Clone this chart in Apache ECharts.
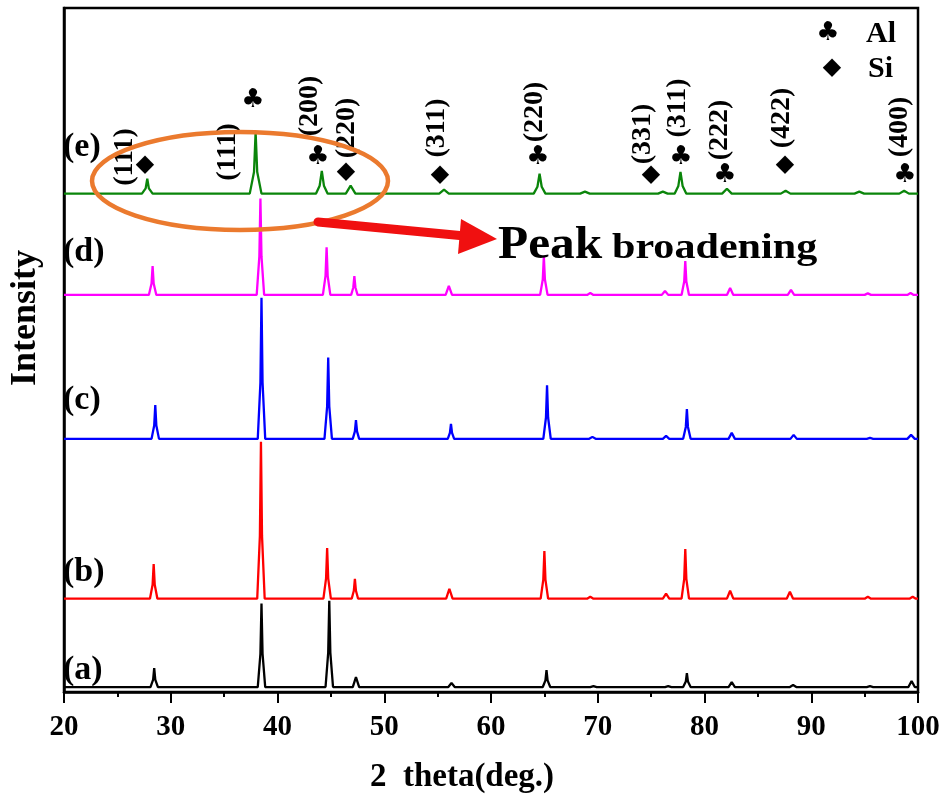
<!DOCTYPE html>
<html><head><meta charset="utf-8">
<script src="https://cdn.jsdelivr.net/npm/echarts@6/dist/echarts.min.js"></script>
<style>html,body{margin:0;padding:0;background:#fff}#c{width:943px;height:799px}</style>
</head><body><div id="c"></div>
<script>
// x axis (2 theta, deg.)
const xMin = 20, xMax = 100, xStep = 10;
// sample names, colours and vertical stacking offsets (a.u.)
const sampleNames = ['(a)', '(b)', '(c)', '(d)', '(e)'];
const sampleColors = ['#000000', '#ff0000', '#0000ff', '#ff00ff', '#0a850a'];
const sampleOffsets = [100, 1880, 5100, 8000, 10040];
const yMax = 13780;

// intensity above each pattern's own baseline, [2theta, intensity]
const patternA = [
  [20,0],
  [28.1,0],[28.35,150],[28.45,380],[28.55,150],[28.8,0],
  [38.15,0],[38.4,670],[38.5,1680],[38.6,670],[38.85,0],
  [44.5,0],[44.75,695],[44.85,1740],[44.95,695],[45.2,0],
  [47.05,0],[47.35,200],[47.65,0],
  [56.0,0],[56.3,80],[56.6,0],
  [64.85,0],[65.1,135],[65.2,340],[65.3,135],[65.55,0],
  [69.3,0],[69.6,20],[69.9,0],
  [76.3,0],[76.6,20],[76.9,0],
  [78.0,0],[78.25,110],[78.35,280],[78.45,110],[78.7,0],
  [82.25,0],[82.55,100],[82.85,0],
  [88.0,0],[88.3,40],[88.6,0],
  [95.2,0],[95.5,20],[95.8,0],
  [99.1,0],[99.4,120],[99.7,0],
  [100,0]
];
const patternB = [
  [20,0],
  [28.05,0],[28.3,280],[28.4,700],[28.5,280],[28.75,0],
  [38.1,0],[38.35,1265],[38.45,3160],[38.55,1265],[38.8,0],
  [44.3,0],[44.55,410],[44.65,1020],[44.75,410],[45.0,0],
  [46.95,0],[47.15,160],[47.25,400],[47.35,160],[47.55,0],
  [55.8,0],[56.1,200],[56.4,0],
  [64.65,0],[64.9,385],[65.0,960],[65.1,385],[65.35,0],
  [69.0,0],[69.3,40],[69.6,0],
  [76.1,0],[76.4,100],[76.7,0],
  [77.85,0],[78.1,400],[78.2,1000],[78.3,400],[78.55,0],
  [82.1,0],[82.4,160],[82.7,0],
  [87.7,0],[88.0,140],[88.3,0],
  [95.0,0],[95.3,40],[95.6,0],
  [99.2,0],[99.5,40],[99.8,0],
  [100,0]
];
const patternC = [
  [20,0],
  [28.2,0],[28.45,270],[28.55,680],[28.65,270],[28.9,0],
  [38.15,0],[38.4,1135],[38.5,2840],[38.6,1135],[38.85,0],
  [44.4,0],[44.65,655],[44.75,1640],[44.85,655],[45.1,0],
  [47.05,0],[47.25,150],[47.35,380],[47.45,150],[47.65,0],
  [55.95,0],[56.15,120],[56.25,300],[56.35,120],[56.55,0],
  [64.9,0],[65.15,430],[65.25,1080],[65.35,430],[65.6,0],
  [69.2,0],[69.5,40],[69.8,0],
  [76.1,0],[76.4,60],[76.7,0],
  [78.0,0],[78.25,240],[78.35,600],[78.45,240],[78.7,0],
  [82.25,0],[82.55,120],[82.85,0],
  [88.05,0],[88.35,80],[88.65,0],
  [95.2,0],[95.5,20],[95.8,0],
  [99.0,0],[99.35,80],[99.7,0],
  [100,0]
];
const patternD = [
  [20,0],
  [27.95,0],[28.2,230],[28.3,580],[28.4,230],[28.65,0],
  [38.05,0],[38.3,775],[38.4,1940],[38.5,775],[38.75,0],
  [44.25,0],[44.5,385],[44.6,960],[44.7,385],[44.95,0],
  [46.9,0],[47.1,150],[47.2,380],[47.3,150],[47.5,0],
  [55.75,0],[56.05,180],[56.35,0],
  [64.6,0],[64.85,310],[64.95,780],[65.05,310],[65.3,0],
  [69.0,0],[69.3,40],[69.6,0],
  [76.0,0],[76.3,80],[76.6,0],
  [77.85,0],[78.1,270],[78.2,680],[78.3,270],[78.55,0],
  [82.1,0],[82.4,140],[82.7,0],
  [87.8,0],[88.1,100],[88.4,0],
  [95.0,0],[95.3,30],[95.6,0],
  [99.0,0],[99.3,40],[99.6,0],
  [100,0]
];
const patternE = [
  [20,0],
  [27.3,0],[27.65,105],[27.8,300],[27.95,105],[28.3,0],
  [37.4,0],[37.8,435],[37.95,1240],[38.1,435],[38.5,0],
  [43.6,0],[43.95,160],[44.15,460],[44.35,160],[44.7,0],
  [46.4,0],[46.85,160],[47.3,0],
  [55.15,0],[55.6,80],[56.05,0],
  [64.0,0],[64.35,140],[64.55,400],[64.75,140],[65.1,0],
  [68.35,0],[68.8,40],[69.25,0],
  [75.65,0],[76.1,40],[76.55,0],
  [77.2,0],[77.55,155],[77.75,440],[77.95,155],[78.3,0],
  [81.65,0],[82.1,100],[82.55,0],
  [87.15,0],[87.6,60],[88.05,0],
  [94.05,0],[94.5,40],[94.95,0],
  [98.25,0],[98.7,60],[99.15,0],
  [100,0]
];
const patterns = [patternA, patternB, patternC, patternD, patternE];

// peak indexing of pattern (e)
const peakHkl = ['(111)', '(111)', '(200)', '(220)', '(311)', '(220)', '(331)', '(311)', '(222)', '(422)', '(400)'];
const peakPhase = ['Si', 'Al', 'Al', 'Si', 'Si', 'Al', 'Si', 'Al', 'Al', 'Si', 'Al'];

const CLUB = '\u2663', DIAM = '\u25C6';
const serif = 'Liberation Serif';

const chart = echarts.init(document.getElementById('c'), null, {renderer: 'canvas'});

const series = patterns.map((p, i) => ({
  name: sampleNames[i],
  type: 'line',
  data: p.map(d => [d[0], d[1] + sampleOffsets[i]]),
  showSymbol: false,
  symbol: 'none',
  lineStyle: {color: sampleColors[i], width: 2.3},
  itemStyle: {color: sampleColors[i]},
  z: 2 + i,
  animation: false
}));

// annotation placement (pixels)
const labelPos = [[125,157],[228,152],[310,106],[347,128],[437,128],[535,112],[643,134],[678,108],[720,130],[782,118],[900,127]];
const symPos = [[145,165],[253,100],[318,157],[346,172],[440,175],[538,157],[651,175],[681,157],[725,175],[785,165],[905,175]];
const panelPos = [[63,670],[63,572],[63,400],[63,252],[63,147]];

const graphic = [];
peakHkl.forEach((t, i) => {
  graphic.push({type: 'text', x: labelPos[i][0], y: labelPos[i][1], rotation: Math.PI / 2, z: 20,
    style: {text: t, font: 'bold 28px "' + serif + '"', fill: '#000', align: 'center', verticalAlign: 'middle'}});
  const isAl = peakPhase[i] === 'Al';
  graphic.push({type: 'text', x: symPos[i][0], y: symPos[i][1], z: 20,
    style: {text: isAl ? CLUB : DIAM, font: (isAl ? '26px' : '24px') + ' "DejaVu Sans"', fill: '#000', align: 'center', verticalAlign: 'middle'}});
});
sampleNames.forEach((n, i) => {
  graphic.push({type: 'text', x: panelPos[i][0], y: panelPos[i][1], z: 20,
    style: {text: n, font: 'bold 34px "' + serif + '"', fill: '#000', align: 'left', verticalAlign: 'middle'}});
});
// legend
graphic.push({type: 'text', x: 828, y: 33, z: 20, style: {text: CLUB, font: '26px "DejaVu Sans"', fill: '#000', align: 'center', verticalAlign: 'middle'}});
graphic.push({type: 'text', x: 866, y: 34, z: 20, style: {text: 'Al', font: 'bold 30px "' + serif + '"', fill: '#000', align: 'left', verticalAlign: 'middle'}});
graphic.push({type: 'text', x: 832, y: 68, z: 20, style: {text: DIAM, font: '24px "DejaVu Sans"', fill: '#000', align: 'center', verticalAlign: 'middle'}});
graphic.push({type: 'text', x: 868, y: 69, z: 20, style: {text: 'Si', font: 'bold 30px "' + serif + '"', fill: '#000', align: 'left', verticalAlign: 'middle'}});
// ellipse
graphic.push({type: 'ellipse', z: 30, shape: {cx: 240, cy: 181, rx: 148, ry: 49},
  style: {fill: null, stroke: '#eb7a2e', lineWidth: 4.5}});
// arrow
graphic.push({type: 'line', z: 31, shape: {x1: 318, y1: 222, x2: 465, y2: 236},
  style: {stroke: '#f01010', lineWidth: 9, lineCap: 'round'}});
graphic.push({type: 'polygon', z: 31, shape: {points: [[497, 239], [461, 219], [458, 254]]},
  style: {fill: '#f01010'}});
// Peak broadening
graphic.push({type: 'text', x: 498, y: 269, z: 20, scaleX: 1.05, style: {text: 'Peak', font: 'bold 47px "' + serif + '"', fill: '#000', align: 'left', verticalAlign: 'bottom'}});
graphic.push({type: 'text', x: 612, y: 267, z: 20, scaleX: 1.17, style: {text: 'broadening', font: 'bold 36px "' + serif + '"', fill: '#000', align: 'left', verticalAlign: 'bottom'}});

chart.setOption({
  animation: false,
  backgroundColor: '#fff',
  grid: {left: 60, right: 25, top: 8, bottom: 102, show: true, borderColor: '#000', borderWidth: 2.5, backgroundColor: 'transparent'},
  xAxis: {
    type: 'value', min: xMin, max: xMax, interval: xStep,
    name: '2  theta(deg.)', nameLocation: 'middle', nameGap: 69,
    nameTextStyle: {fontFamily: serif, fontWeight: 'bold', fontSize: 33, color: '#000', padding: [0, 58, 0, 0]},
    axisLine: {show: true, lineStyle: {color: '#000', width: 2.5}},
    axisTick: {show: true, inside: false, length: 11, lineStyle: {color: '#000', width: 2}},
    minorTick: {show: true, splitNumber: 2, length: 5, lineStyle: {color: '#000', width: 2}},
    axisLabel: {fontFamily: serif, fontWeight: 'bold', fontSize: 29, color: '#000', margin: 21},
    splitLine: {show: false}, minorSplitLine: {show: false}
  },
  yAxis: {
    type: 'value', min: 0, max: yMax,
    name: 'Intensity', nameLocation: 'middle', nameGap: 20, nameRotate: 90,
    nameTextStyle: {fontFamily: serif, fontWeight: 'bold', fontSize: 36, color: '#000', padding: [0, 0, 0, 64]},
    axisLine: {show: true, lineStyle: {color: '#000', width: 2.5}},
    axisTick: {show: false}, axisLabel: {show: false}, splitLine: {show: false}
  },
  series: series,
  graphic: graphic
});
</script></body></html>
